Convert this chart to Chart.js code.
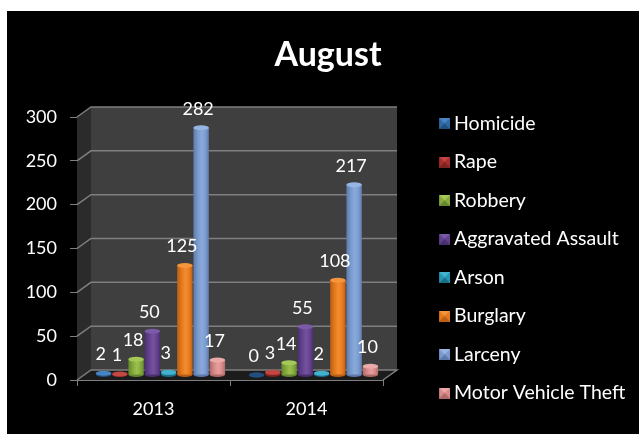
<!DOCTYPE html>
<html lang="en">
<head>
  <meta charset="UTF-8">
  <title>August</title>
  <script src="https://cdn.jsdelivr.net/npm/chart.js"></script>
  <style>
    html, body { margin: 0; background: #fff; }
    #wrap { position: absolute; left: 7px; top: 11px; width: 632px; height: 423px; background: #000; overflow: hidden; }
  </style>
</head>
<body>
  <div id="wrap"><canvas id="chart" width="632" height="423"></canvas></div>
  <script>
    var years = ['2013', '2014'];
    var offenses = ['Homicide', 'Rape', 'Robbery', 'Aggravated Assault', 'Arson', 'Burglary', 'Larceny', 'Motor Vehicle Theft'];
    var homicide = [2, 0];
    var rape = [1, 3];
    var robbery = [18, 14];
    var assault = [50, 55];
    var arson = [3, 2];
    var burglary = [125, 108];
    var larceny = [282, 217];
    var motorVehicle = [17, 10];
    var yTicks = [0, 50, 100, 150, 200, 250, 300];

    var seriesValues = [homicide, rape, robbery, assault, arson, burglary, larceny, motorVehicle];
    // dark edge, body, highlight, cap
    var shades = [
      ['#234f7e', '#2f6aa6', '#3f7bb8', '#4684c2'],
      ['#7c2220', '#a82c2a', '#bd3f3c', '#c44643'],
      ['#668530', '#86ab3c', '#9cc150', '#a4c957'],
      ['#4a2f6e', '#65428f', '#7453a0', '#7b5aa8'],
      ['#1b7088', '#2596b4', '#3aaac7', '#42b2cf'],
      ['#bb5e14', '#e67a1c', '#f28d32', '#f6963c'],
      ['#5e7aab', '#7a9bcf', '#8aaada', '#97b5e2'],
      ['#ad6a69', '#d98a89', '#e59f9e', '#ebaaa9']
    ];

    var catPct = 0.85, barPct = 0.95;
    var shiftX = 7, shiftY = -5;   // bars stand in the middle of the floor
    var depthX = 14, depthY = -10; // wall depth
    var capRy = 2.5;
    var lineGrey = '#7f7f7f';

    // legend swatch, right aligned in a wider canvas because the legend centres the image on its small box
    function bevel(colors) {
      var c = document.createElement('canvas');
      c.width = 17; c.height = 11;
      var g = c.getContext('2d');
      function tri(col, x1, y1, x2, y2) {
        g.fillStyle = col;
        g.beginPath(); g.moveTo(x1, y1); g.lineTo(x2, y2); g.lineTo(11.5, 5.5); g.fill();
      }
      g.fillStyle = colors[1]; g.fillRect(6, 0, 11, 11);
      tri(colors[3], 6, 0, 17, 0);
      tri(colors[0], 6, 11, 17, 11);
      return c;
    }

    function barFill(ctx) {
      var chart = ctx.chart, s = chart.scales.x;
      var colors = shades[ctx.datasetIndex];
      if (!s || s.width <= 0) return colors[1];
      var cat = s.width / years.length;
      var slot = cat * catPct / offenses.length;
      var mid = s.getPixelForValue(ctx.dataIndex) + (ctx.datasetIndex - 3.5) * slot;
      var half = slot * barPct / 2;
      var grad = chart.ctx.createLinearGradient(mid - half, 0, mid + half, 0);
      grad.addColorStop(0, colors[0]);
      grad.addColorStop(0.3, colors[1]);
      grad.addColorStop(0.55, colors[2]);
      grad.addColorStop(0.8, colors[1]);
      grad.addColorStop(1, colors[0]);
      return grad;
    }

    function ellipse(ctx, x, y, rx, col) {
      ctx.fillStyle = col;
      ctx.beginPath();
      ctx.ellipse(x, y, rx, capRy, 0, 0, Math.PI * 2);
      ctx.fill();
    }

    var walls = {
      id: 'walls',
      beforeDatasetsDraw: function(chart) {
        var ctx = chart.ctx, a = chart.chartArea, y = chart.scales.y;
        var l = a.left, r = a.right, t = a.top, b = a.bottom;
        ctx.save();
        ctx.fillStyle = '#2b2b2b';
        ctx.beginPath(); ctx.moveTo(l, b); ctx.lineTo(l, t); ctx.lineTo(l + depthX, t + depthY); ctx.lineTo(l + depthX, b + depthY); ctx.fill();
        ctx.fillStyle = '#3f3f3f';
        ctx.fillRect(l + depthX, t + depthY, r - l, b - t);
        ctx.fillStyle = '#1c1c1c';
        ctx.beginPath(); ctx.moveTo(l, b); ctx.lineTo(l + depthX, b + depthY); ctx.lineTo(r + depthX, b + depthY); ctx.lineTo(r, b); ctx.fill();
        ctx.strokeStyle = lineGrey;
        ctx.lineWidth = 1.5;
        yTicks.forEach(function(v) {
          var py = y.getPixelForValue(v);
          ctx.beginPath(); ctx.moveTo(l, py); ctx.lineTo(l + depthX, py + depthY); ctx.lineTo(r + depthX, py + depthY);
          if (v === 0) ctx.lineTo(r, py);
          ctx.stroke();
        });
        ctx.restore();
        // bars are shifted back, bottoms go under them
        ctx.save();
        ctx.translate(shiftX, shiftY);
        chart.data.datasets.forEach(function(ds, i) {
          chart.getDatasetMeta(i).data.forEach(function(el) {
            ellipse(ctx, el.x, el.base, el.width / 2, shades[i][0]);
          });
        });
      },
      afterDatasetsDraw: function(chart) {
        var ctx = chart.ctx;
        chart.data.datasets.forEach(function(ds, i) {
          chart.getDatasetMeta(i).data.forEach(function(el, j) {
            ellipse(ctx, el.x, el.y, el.width / 2, ds.data[j] === 0 ? shades[i][0] : shades[i][3]);
          });
        });
        ctx.restore();
        // value labels
        ctx.save();
        ctx.fillStyle = '#fff';
        ctx.font = '18px Lato';
        ctx.textAlign = 'center';
        ctx.textBaseline = 'middle';
        chart.data.datasets.forEach(function(ds, i) {
          chart.getDatasetMeta(i).data.forEach(function(el, j) {
            ctx.fillText(ds.data[j], el.x + shiftX - 3, el.y + shiftY - 19);
          });
        });
        ctx.restore();
      }
    };

    // layout squeezes the right column, so put legend and title where they belong afterwards
    var moveBlocks = {
      id: 'moveBlocks',
      afterLayout: function(chart) {
        var lg = chart.legend;
        lg.left = 413; lg.width = 219; lg.right = 632;
        lg.top = 83.75; lg.bottom = 423; lg.height = 339.25;
        chart.titleBlock.left = 0;
        chart.titleBlock.right = 642;
      }
    };

    new Chart(document.getElementById('chart'), {
      type: 'bar',
      data: {
        labels: years,
        datasets: offenses.map(function(name, i) {
          return { label: name, data: seriesValues[i], backgroundColor: barFill, borderWidth: 0, clip: false };
        })
      },
      plugins: [walls, moveBlocks],
      options: {
        responsive: false,
        animation: false,
        layout: { padding: { left: 0, right: 156, top: 0, bottom: 0 } },
        categoryPercentage: catPct,
        barPercentage: barPct,
        scales: {
          x: {
            afterFit: function(s) { s.height = 54; },
            grid: { drawOnChartArea: false, color: lineGrey, tickLength: 6, lineWidth: 1 },
            border: { color: lineGrey },
            ticks: { color: '#fff', font: { family: 'Lato', size: 18 }, padding: 12 }
          },
          y: {
            min: 0,
            max: 300,
            afterFit: function(s) { s.width = 70; },
            afterBuildTicks: function(s) { s.ticks = yTicks.map(function(v) { return { value: v }; }); },
            grid: { drawOnChartArea: false, color: lineGrey, tickLength: 7 },
            border: { color: lineGrey },
            ticks: { color: '#fff', font: { family: 'Lato', size: 18 }, padding: 13 }
          }
        },
        plugins: {
          tooltip: { enabled: false },
          title: {
            display: true,
            text: 'August',
            color: '#fff',
            font: { family: 'Lato', size: 34, weight: 'bold' },
            padding: { top: 23.6, bottom: 41.6 }
          },
          legend: {
            position: 'right',
            align: 'start',
            maxWidth: 100,
            labels: {
              color: '#fff',
              font: { family: 'Lato', size: 19.5 },
              boxWidth: 5.25,
              boxHeight: 11,
              padding: 19,
              usePointStyle: true,
              generateLabels: function() {
                return offenses.map(function(name, i) {
                  return { text: name, fontColor: '#fff', pointStyle: bevel(shades[i]), datasetIndex: i, lineWidth: 0 };
                });
              }
            }
          }
        }
      }
    });
  </script>
</body>
</html>
